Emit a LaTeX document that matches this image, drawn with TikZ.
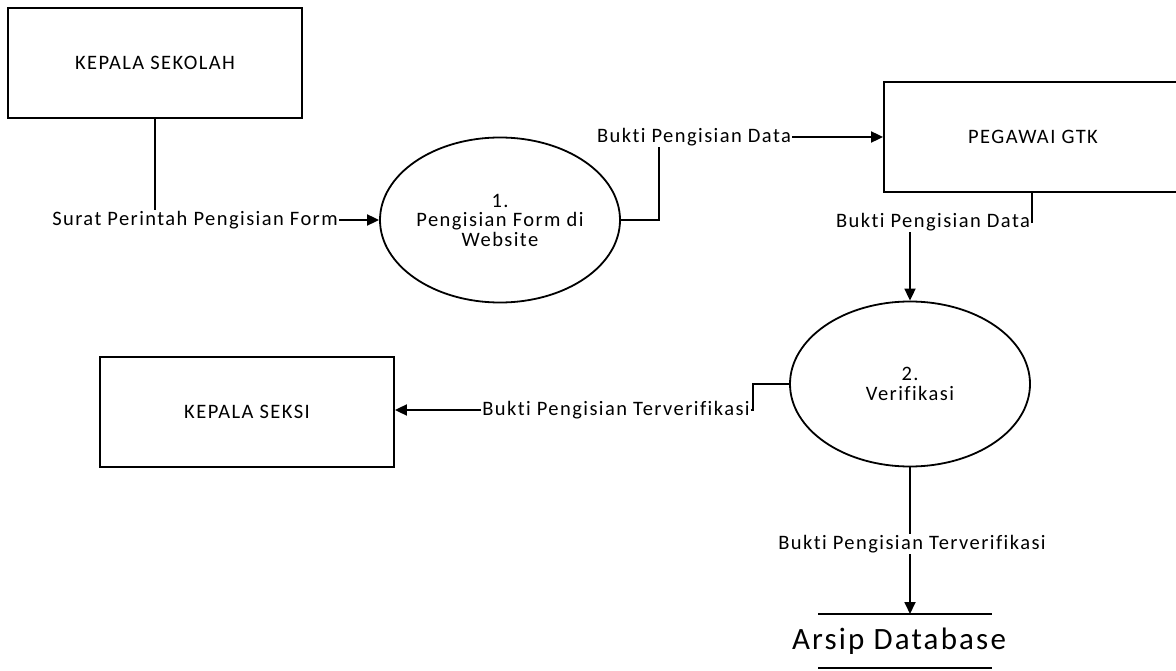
\documentclass[tikz,border=0pt]{standalone}
\usepackage{fontspec}
\setmainfont[LetterSpace=7,Ligatures={NoCommon}]{Carlito}
\usetikzlibrary{arrows.meta,shapes.geometric}
\begin{document}
\begin{tikzpicture}[x=1pt,y=-1pt,
  every node/.style={inner sep=0pt},
  entity/.style={draw, line width=1.8pt, minimum width=294pt, minimum height=110pt,
    font=\fontsize{20.5}{24}\selectfont},
  process/.style={draw, ellipse, line width=1.8pt, minimum width=240pt, minimum height=165pt,
    align=center, font=\fontsize{20.5}{19.5}\selectfont},
  flow/.style={line width=1.8pt, -{Triangle[length=12pt,width=11pt]}},
  plain/.style={line width=1.8pt},
  lbl/.style={fill=white, inner sep=1.5pt, font=\fontsize{20.5}{24}\selectfont},
  store/.style={font=\fontsize{31}{34}\selectfont}]
\useasboundingbox (0,0) rectangle (1176,671);
\clip (0,0) rectangle (1176,671);

% external entities
\node[entity] (sekolah) at (155,63) {KEPALA SEKOLAH};
\node[entity, minimum width=298pt] (gtk) at (1033,137) {PEGAWAI GTK};
\node[entity] (seksi) at (247,412) {KEPALA SEKSI};

% processes
\node[process] (p1) at (500,220) {1.\\Pengisian Form di\\Website};
\node[process] (p2) at (910,384) {2.\\Verifikasi};

% data store
\coordinate (dsTL) at (818,614);
\coordinate (dsTR) at (992,614);
\coordinate (dsBL) at (818,668);
\coordinate (dsBR) at (992,668);
\coordinate (dsTop) at (910,614);
\node[store] (arsip) at (899,641) {Arsip Database};
\draw[plain] (dsTL) -- (dsTR);
\draw[plain] (dsBL) -- (dsBR);

% flows
\draw[flow] (sekolah.south) |- (p1.west);
\node[lbl] at (195,220) {Surat Perintah Pengisian Form};

\coordinate (b1) at (659,220);
\coordinate (b2) at (659,137);
\draw[flow] (p1.east) -- (b1) -- (b2) -- (gtk.west);
\node[lbl] at (694,137) {Bukti Pengisian Data};

\coordinate (c1) at (1032,222);
\coordinate (c2) at (910,222);
\draw[flow] (gtk.south -| c1) -- (c1) -- (c2) -- (p2.north);
\node[lbl] at (933,222) {Bukti Pengisian Data};

\coordinate (d1) at (753,384);
\coordinate (d2) at (753,410);
\draw[flow] (p2.west) -- (d1) -- (d2) -- (seksi.east |- d2);
\node[lbl] at (616,410) {Bukti Pengisian Terverifikasi};

\draw[flow] (p2.south) -- (dsTop);
\node[lbl] at (912,544) {Bukti Pengisian Terverifikasi};
\end{tikzpicture}
\end{document}
